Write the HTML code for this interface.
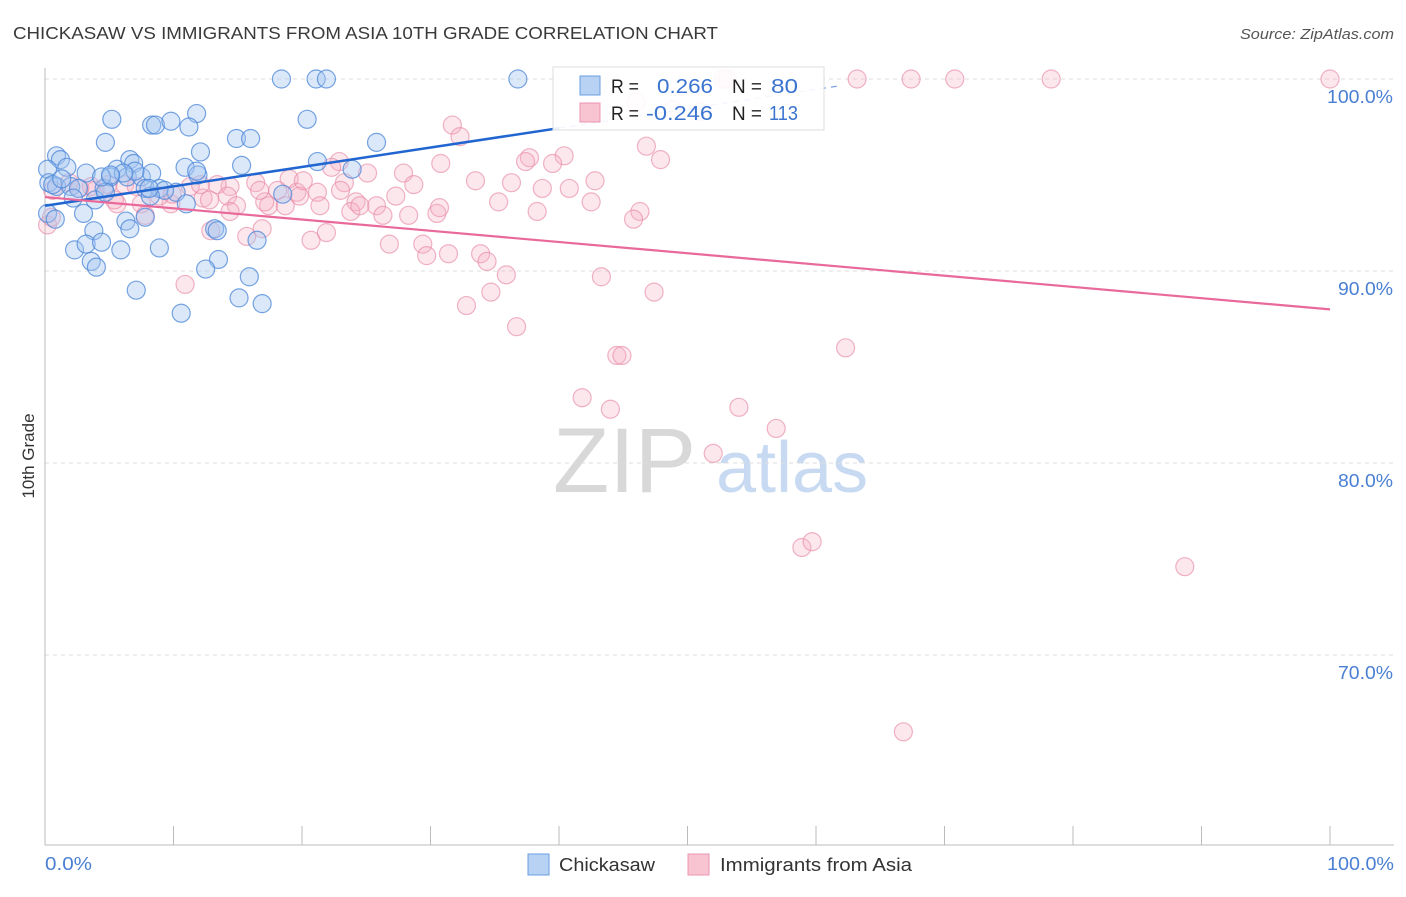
<!DOCTYPE html>
<html><head><meta charset="utf-8"><style>
body{margin:0;background:#fff;font-family:"Liberation Sans",sans-serif;}
svg text{font-family:"Liberation Sans",sans-serif;}
</style></head><body>
<svg id="chart" width="1406" height="892" xmlns="http://www.w3.org/2000/svg">
<text x="13" y="39" font-size="17.5" fill="#3a3a3a" textLength="705" lengthAdjust="spacingAndGlyphs">CHICKASAW VS IMMIGRANTS FROM ASIA 10TH GRADE CORRELATION CHART</text>
<text x="1394" y="39" font-size="14.5" fill="#555" text-anchor="end" font-style="italic" textLength="154" lengthAdjust="spacingAndGlyphs">Source: ZipAtlas.com</text>
<g>
<text x="553" y="492" font-size="92" fill="#d8d8d8" font-family="Liberation Serif,serif">ZIP</text>
<text x="716" y="492" font-size="72" fill="#c8daf2">atlas</text>
</g>
<g id="grid"></g>
<g id="axes"></g>
<g id="pts"></g>
<g id="trends"></g>
<text transform="translate(34,456) rotate(-90)" font-size="17" fill="#333" text-anchor="middle">10th Grade</text>
<g>
<rect x="553" y="67" width="271" height="63" fill="#fff" fill-opacity="0.9" stroke="#ddd"/>
<rect x="580" y="76" width="20" height="19" fill="#b8d2f4" stroke="#6a9ee0"/>
<rect x="580" y="103" width="20" height="19" fill="#f8c4d2" stroke="#ec94b0"/>
<text x="611" y="93" font-size="19" fill="#222" textLength="28" lengthAdjust="spacingAndGlyphs">R =</text>
<text x="657" y="93" font-size="20" fill="#3a74d0" textLength="56" lengthAdjust="spacingAndGlyphs">0.266</text>
<text x="732" y="93" font-size="19" fill="#222" textLength="30" lengthAdjust="spacingAndGlyphs">N =</text>
<text x="771" y="93" font-size="20" fill="#3a74d0" textLength="27" lengthAdjust="spacingAndGlyphs">80</text>
<text x="611" y="120" font-size="19" fill="#222" textLength="28" lengthAdjust="spacingAndGlyphs">R =</text>
<text x="646" y="120" font-size="20" fill="#3a74d0" textLength="67" lengthAdjust="spacingAndGlyphs">-0.246</text>
<text x="732" y="120" font-size="19" fill="#222" textLength="30" lengthAdjust="spacingAndGlyphs">N =</text>
<text x="769" y="120" font-size="20" fill="#3a74d0" textLength="29" lengthAdjust="spacingAndGlyphs">113</text>
</g>
<g>
<rect x="528" y="854" width="21" height="21" fill="#b8d2f4" stroke="#6a9ee0"/>
<text x="559" y="871" font-size="18" fill="#333" textLength="96" lengthAdjust="spacingAndGlyphs">Chickasaw</text>
<rect x="688" y="854" width="21" height="21" fill="#f8c4d2" stroke="#ec94b0"/>
<text x="720" y="871" font-size="18" fill="#333" textLength="192" lengthAdjust="spacingAndGlyphs">Immigrants from Asia</text>
</g>
</svg>
<script>
const yTicks=[100,90,80,70];
const yTickLabels=["100.0%","90.0%","80.0%","70.0%"];
const xTickLabels=["0.0%","100.0%"];
const blueX=[18.4,21.1,21.9,36.8,5.2,8.3,8.6,9.8,11.8,11.2,20.4,4.7,14.9,16.0,25.8,0.9,1.2,12.1,0.2,1.7,3.2,5.6,6.6,6.9,10.9,11.9,15.3,21.2,23.9,5.1,6.4,7.5,8.3,0.3,0.9,2.0,2.6,4.6,7.8,8.9,10.2,9.3,18.5,2.2,3.9,8.2,11.0,4.7,3.0,6.3,7.8,6.6,3.8,13.2,13.4,16.5,2.3,3.2,4.4,5.9,8.9,3.6,4.0,13.5,12.5,15.9,7.1,15.1,16.9,10.6,0.6,1.3,7.0,4.4,8.1,0.2,0.8,11.8,6.1,5.1];
const blueY=[100,100,100,100,97.9,97.6,97.6,97.8,98.2,97.5,97.9,96.7,96.9,96.9,96.7,96.0,95.8,96.2,95.3,95.4,95.1,95.3,95.8,95.6,95.4,95.0,95.5,95.7,95.3,94.9,94.9,94.9,95.1,94.6,94.4,94.4,94.3,94.3,94.3,94.3,94.1,94.2,94.0,93.8,93.7,93.9,93.5,94.1,93.0,92.6,92.8,92.2,92.1,92.2,92.1,91.6,91.1,91.4,91.5,91.1,91.2,90.5,90.2,90.6,90.1,89.7,89.0,88.6,88.3,87.8,94.5,94.8,95.2,94.9,94.3,93.0,92.7,95.2,95.1,95.0];
const pinkX=[52.8,53.1,63.2,67.4,70.8,78.3,100,46.0,51.0,48.9,31.7,32.3,46.8,47.9,40.4,37.7,37.4,39.5,30.8,22.9,22.3,25.1,27.9,19.0,16.4,28.7,33.5,36.3,38.7,40.8,42.8,23.3,27.3,21.2,19.6,19.8,18.1,14.4,13.4,11.3,6.2,4.9,3.6,1.9,0.6,7.5,5.6,9.8,12.3,14.2,14.9,17.4,21.4,24.2,25.8,23.8,26.3,28.3,30.5,35.3,38.3,42.5,46.3,45.8,12.9,15.7,16.9,20.7,21.9,26.8,29.4,29.7,31.4,33.9,34.4,35.9,34.7,32.8,36.7,43.3,47.4,44.5,44.9,62.3,41.8,44.0,54.0,56.9,52.0,58.9,59.7,88.7,66.8,10.9,0.2,0.5,7.8,17.1,8.9,3.9,2.7,5.4,7.1,12.1,23.0,18.7,30.7,24.5,9.9,12.8,16.7,20.1,14.4];
const pinkY=[100,100,100,100,100,100,100,98.8,98.3,98.4,97.6,97.0,96.5,95.8,96.0,95.9,95.7,95.6,95.6,95.7,95.4,95.1,95.1,94.8,94.6,94.5,94.7,94.6,94.3,94.3,94.7,94.6,93.9,94.1,94.1,93.9,94.2,94.4,94.5,94.4,94.5,94.5,94.4,94.6,94.2,93.5,93.5,93.5,93.8,93.9,93.4,93.4,93.4,93.6,93.4,93.1,92.9,92.9,93.0,93.6,93.1,93.6,93.1,92.7,92.1,91.8,92.2,91.6,92.0,91.4,91.4,90.8,90.9,90.9,90.5,89.8,88.9,88.2,87.1,89.7,88.9,85.6,85.6,86.0,83.4,82.8,82.9,81.8,80.5,75.6,75.9,74.6,66.0,89.3,92.4,92.8,92.9,93.6,93.9,94.2,94.3,93.7,94.4,94.5,94.2,93.4,93.3,93.4,94.0,93.7,94.2,94.7,93.1];
const blueTrend=[93.4,103.5];
const pinkTrend=[93.85,88.0];
const blueSolidEnd=40;

const NS="http://www.w3.org/2000/svg";
const X0=45,X1=1330,YTOP=79,PX10=19.2;
function sx(v){return X0+(X1-X0)*v/100;}
function sy(v){return YTOP+(100-v)*PX10;}
function mk(tag,attrs,parent){const e=document.createElementNS(NS,tag);for(const k in attrs)e.setAttribute(k,attrs[k]);parent.appendChild(e);return e;}
const grid=document.getElementById('grid'),axes=document.getElementById('axes'),pts=document.getElementById('pts'),tr=document.getElementById('trends');
yTicks.forEach((t,i)=>{
  const l=mk('line',{x1:X0,x2:1394,y1:sy(t),y2:sy(t),stroke:'#ddd','stroke-dasharray':'4,4'},grid);
  
  
  const tx=mk('text',{x:1393,y:sy(t)+24,'font-size':18,fill:'#4a7fd4','text-anchor':'end',textLength:yTickLabels[i].length*11,lengthAdjust:'spacingAndGlyphs'},axes);
  tx.textContent=yTickLabels[i];
  
  
});
const ya=mk('line',{x1:X0,x2:X0,y1:68,y2:845,stroke:'#bbb'},axes);


const xa=mk('line',{x1:X0,x2:1394,y1:845,y2:845,stroke:'#bbb'},axes);


for(let i=0;i<=10;i++){
  const t=mk('line',{x1:sx(i*10),x2:sx(i*10),y1:826,y2:845,stroke:'#bbb'},axes);
  
  
}
const xl0=mk('text',{x:45,y:870,'font-size':18,fill:'#4a7fd4',textLength:47,lengthAdjust:'spacingAndGlyphs'},axes);xl0.textContent=xTickLabels[0];


const xl1=mk('text',{x:1394,y:870,'font-size':18,fill:'#4a7fd4','text-anchor':'end',textLength:67,lengthAdjust:'spacingAndGlyphs'},axes);xl1.textContent=xTickLabels[1];


pinkX.forEach((v,i)=>{
  const c=mk('circle',{cx:sx(v),cy:sy(pinkY[i]),r:9,fill:'#f5b0c4','fill-opacity':0.3,stroke:'#e88aa8','stroke-opacity':0.65,'stroke-width':1.2},pts);
  
  
});
blueX.forEach((v,i)=>{
  const c=mk('circle',{cx:sx(v),cy:sy(blueY[i]),r:9,fill:'#a6c6f0','fill-opacity':0.4,stroke:'#4a86d8','stroke-opacity':0.75,'stroke-width':1.2},pts);
  
  
});
function ty(tv,x){return tv[0]+(tv[1]-tv[0])*x/100;}
const bl=mk('line',{x1:sx(0),y1:sy(ty(blueTrend,0)),x2:sx(blueSolidEnd),y2:sy(ty(blueTrend,blueSolidEnd)),stroke:'#2166d0','stroke-width':2.5},tr);


const bd=mk('line',{x1:sx(blueSolidEnd),y1:sy(ty(blueTrend,blueSolidEnd)),x2:sx(62),y2:sy(ty(blueTrend,62)),stroke:'#2166d0','stroke-width':1.2,'stroke-dasharray':'6,5','stroke-opacity':0.6},tr);


const pl=mk('line',{x1:sx(0),y1:sy(ty(pinkTrend,0)),x2:sx(100),y2:sy(ty(pinkTrend,100)),stroke:'#e8699a','stroke-width':2.2},tr);


</script>
</body></html>
